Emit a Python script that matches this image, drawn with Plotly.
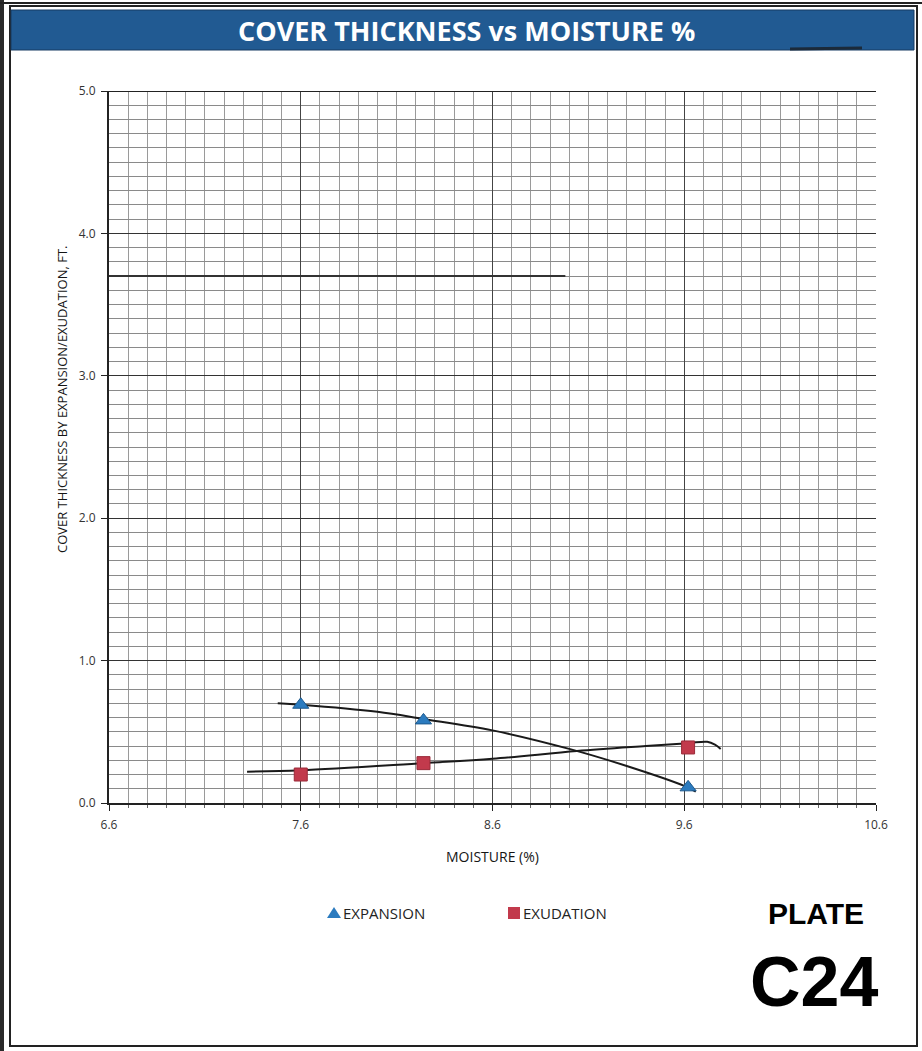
import plotly.graph_objects as go

# Measured points
moisture = [7.6, 8.24, 9.62]
expansion = [0.69, 0.58, 0.11]
exudation = [0.20, 0.28, 0.39]

# Hand-fitted trend curves
exp_curve_x = [7.48, 7.6, 8.0, 8.24, 8.6, 9.0, 9.3, 9.6, 9.66]
exp_curve_y = [0.70, 0.69, 0.64, 0.59, 0.51, 0.38, 0.26, 0.12, 0.08]
exu_curve_x = [7.32, 7.6, 8.24, 8.6, 9.04, 9.4, 9.62, 9.72, 9.76, 9.79]
exu_curve_y = [0.22, 0.23, 0.28, 0.31, 0.365, 0.40, 0.42, 0.43, 0.41, 0.38]

x_ticks = [6.6, 7.6, 8.6, 9.6, 10.6]
y_ticks = [0.0, 1.0, 2.0, 3.0, 4.0, 5.0]

EXP_COLOR = "#2b7bbf"
EXU_COLOR = "#c23a4c"

W, H = 922, 1051
L, R, T, B = 109, 876, 91, 803


def px(x):
    return (x - L) / (R - L)


def py(y):
    return (B - y) / (B - T)


fig = go.Figure()

fig.add_trace(go.Scatter(x=exp_curve_x, y=exp_curve_y, mode="lines",
                         line=dict(color="#1a1a1a", width=2, shape="spline"),
                         showlegend=False, hoverinfo="skip"))
fig.add_trace(go.Scatter(x=exu_curve_x, y=exu_curve_y, mode="lines",
                         line=dict(color="#1a1a1a", width=2, shape="spline"),
                         showlegend=False, hoverinfo="skip"))
fig.add_trace(go.Scatter(x=moisture, y=expansion, mode="markers", name="EXPANSION",
                         showlegend=False,
                         marker=dict(symbol="triangle-up", size=14, color=EXP_COLOR,
                                     line=dict(color="#1d5a8e", width=1))))
fig.add_trace(go.Scatter(x=moisture, y=exudation, mode="markers", name="EXUDATION",
                         showlegend=False,
                         marker=dict(symbol="square", size=13, color=EXU_COLOR,
                                     line=dict(color="#9a2a38", width=1))))

shapes = []
# Outer page frame and left binding bar
shapes.append(dict(type="rect", xref="paper", yref="paper",
                   x0=px(10), x1=px(917), y0=py(1046), y1=py(6),
                   line=dict(color="#222", width=2), fillcolor="rgba(0,0,0,0)", layer="below"))
shapes.append(dict(type="rect", xref="paper", yref="paper",
                   x0=px(0), x1=px(4), y0=py(1051), y1=py(0),
                   line=dict(width=0), fillcolor="#2a2a2a", layer="below"))
shapes.append(dict(type="line", xref="paper", yref="paper",
                   x0=px(0), x1=px(922), y0=py(3), y1=py(3),
                   line=dict(color="#222", width=2)))
# Title banner
shapes.append(dict(type="rect", xref="paper", yref="paper",
                   x0=px(11), x1=px(914), y0=py(50), y1=py(10),
                   line=dict(color="#163a63", width=1), fillcolor="#215a92", layer="below"))
shapes.append(dict(type="line", xref="paper", yref="paper",
                   x0=px(790), x1=px(862), y0=py(49), y1=py(48),
                   line=dict(color="#1b2a3a", width=3)))
# Legend swatches
shapes.append(dict(type="path", xref="paper", yref="paper",
                   path=(f"M {px(327)},{py(918)} L {px(341)},{py(918)} "
                         f"L {px(334)},{py(907)} Z"),
                   line=dict(width=0), fillcolor=EXP_COLOR))
shapes.append(dict(type="rect", xref="paper", yref="paper",
                   x0=px(508), x1=px(520), y0=py(919), y1=py(907),
                   line=dict(width=0), fillcolor=EXU_COLOR))
# Heavy rules across the upper grid
shapes.append(dict(type="line", xref="x", yref="y",
                   x0=6.6, x1=8.98, y0=3.7, y1=3.7,
                   line=dict(color="#333", width=2)))
shapes.append(dict(type="line", xref="x", yref="y",
                   x0=6.6, x1=10.6, y0=5.0, y1=5.0,
                   line=dict(color="#222", width=2)))

annotations = [
    dict(text="<b>COVER THICKNESS vs MOISTURE %</b>", xref="paper", yref="paper",
         x=px(466), y=py(31), xanchor="center", yanchor="middle", showarrow=False,
         font=dict(family="Open Sans", size=27, color="white")),
    dict(text="COVER THICKNESS BY EXPANSION/EXUDATION, FT.", xref="paper", yref="paper",
         x=px(62), y=py(400), xanchor="center", yanchor="middle", textangle=-90,
         showarrow=False, font=dict(family="Open Sans", size=13, color="#151515")),
    dict(text="MOISTURE (%)", xref="paper", yref="paper",
         x=px(492), y=py(856), xanchor="center", yanchor="middle",
         showarrow=False, font=dict(family="Open Sans", size=14, color="#151515")),
    # Legend entries
    dict(text="EXPANSION", xref="paper", yref="paper",
         x=px(341), y=py(913), xanchor="left", yanchor="middle", showarrow=False,
         font=dict(family="Open Sans", size=15, color="#222")),
    dict(text="EXUDATION", xref="paper", yref="paper",
         x=px(521), y=py(913), xanchor="left", yanchor="middle", showarrow=False,
         font=dict(family="Open Sans", size=15, color="#222")),
    dict(text="<b>PLATE</b>", xref="paper", yref="paper", x=px(816), y=py(913),
         xanchor="center", yanchor="middle",
         showarrow=False, font=dict(family="Liberation Sans", size=30, color="black")),
    dict(text="<b>C24</b>", xref="paper", yref="paper", x=px(814), y=py(982),
         xanchor="center", yanchor="middle",
         showarrow=False, font=dict(family="Liberation Sans", size=70, color="black")),
]

fig.update_layout(
    width=W, height=H,
    margin=dict(l=L, r=W - R, t=T, b=H - B),
    paper_bgcolor="white", plot_bgcolor="white",
    shapes=shapes, annotations=annotations,
    font=dict(family="Open Sans", size=12, color="#333"),
    showlegend=False,
)

fig.update_xaxes(
    range=[6.6, 10.6], tickvals=x_ticks, ticktext=[f"{v:.1f}" for v in x_ticks],
    showgrid=True, gridcolor="#444", gridwidth=1,
    minor=dict(dtick=0.1, tick0=6.6, showgrid=True, gridcolor="#9a9a9a", gridwidth=1,
               ticks="outside", ticklen=3, tickcolor="#666"),
    ticks="outside", ticklen=6, tickcolor="#222", ticklabelstandoff=4,
    showline=True, linecolor="#222", linewidth=2, zeroline=False,
    tickfont=dict(family="Open Sans", size=12, color="#333"),
)
fig.update_yaxes(
    range=[0, 5], tickvals=y_ticks, ticktext=[f"{v:.1f}" for v in y_ticks],
    showgrid=True, gridcolor="#333", gridwidth=1,
    minor=dict(dtick=0.1, tick0=0, showgrid=True, gridcolor="#8a8a8a", gridwidth=1),
    ticks="outside", ticklen=6, tickcolor="#222", ticklabelstandoff=3,
    showline=True, linecolor="#222", linewidth=2, zeroline=False,
    tickfont=dict(family="Open Sans", size=12, color="#333"),
)

fig.write_html("out.html")
